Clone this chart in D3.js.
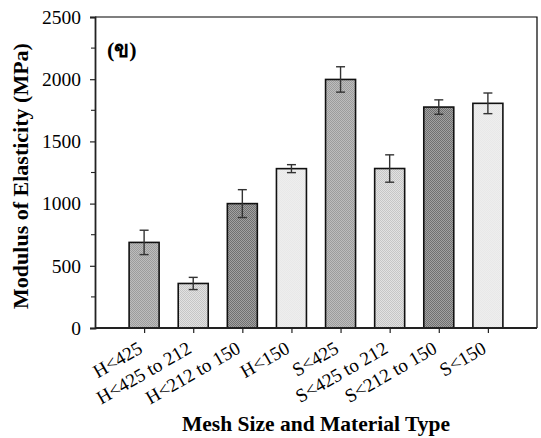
<!DOCTYPE html>
<html lang="en">
<head>
<meta charset="utf-8">
<title>Modulus of Elasticity</title>
<script src="https://cdnjs.cloudflare.com/ajax/libs/d3/7.8.5/d3.min.js"></script>
<style>
body { margin: 0; background: #fff; }
svg { display: block; }
text { font-family: "Liberation Serif", "Times New Roman", serif; fill: #000; }
</style>
</head>
<body>
<script>
// data
var categories = ["H<425", "H<425 to 212", "H<212 to 150", "H<150",
                  "S<425", "S<425 to 212", "S<212 to 150", "S<150"];
var values = [688, 358, 1000, 1281, 1998, 1282, 1776, 1806];
var errors = [98, 49, 112, 32, 102, 110, 58, 83];
var fillKind = ["mid", "light", "dark", "pale", "mid", "light", "dark", "pale"];
var yTicks = [0, 500, 1000, 1500, 2000, 2500];

var w = 541, h = 438;
// plot box (note: "top" is taken by window.top)
var pLeft = 95, pRight = 537, pTop = 17, pBottom = 328;

var svg = d3.select("body").append("svg")
    .attr("width", w)
    .attr("height", h);

// dotted fills
var defs = svg.append("defs");
var pats = {
    mid:   ["#9c9c9c", "#bdbdbd"],
    light: ["#c6c6c6", "#e2e2e2"],
    dark:  ["#707070", "#a2a2a2"],
    pale:  ["#e8e8e8", "#eeeeee"]
};
Object.keys(pats).forEach(function(k) {
    var p = defs.append("pattern")
        .attr("id", "pat-" + k)
        .attr("width", 2).attr("height", 2)
        .attr("patternUnits", "userSpaceOnUse");
    p.append("rect").attr("width", 2).attr("height", 2).attr("fill", pats[k][1]);
    p.append("rect").attr("width", 1).attr("height", 1).attr("fill", pats[k][0]);
    p.append("rect").attr("x", 1).attr("y", 1).attr("width", 1).attr("height", 1).attr("fill", pats[k][0]);
});

var x = d3.scalePoint()
    .domain(categories)
    .range([pLeft, pRight])
    .padding(1);

var y = d3.scaleLinear()
    .domain([0, 2500])
    .range([pBottom, pTop]);

var barW = 30;

// frame (top and right)
svg.append("path")
    .attr("d", "M" + pLeft + "," + pTop + "H" + pRight + "V" + pBottom)
    .attr("fill", "none")
    .attr("stroke", "#000")
    .attr("stroke-width", 1.2);

// bars
svg.selectAll("rect.bar")
    .data(categories)
    .enter()
    .append("rect")
    .attr("class", "bar")
    .attr("x", function(d) { return x(d) - barW / 2; })
    .attr("y", function(d, i) { return y(values[i]); })
    .attr("width", barW)
    .attr("height", function(d, i) { return y(0) - y(values[i]); })
    .attr("fill", function(d, i) { return "url(#pat-" + fillKind[i] + ")"; })
    .attr("stroke", "#111")
    .attr("stroke-width", 1.6);

// error bars
var eb = svg.selectAll("g.err")
    .data(categories)
    .enter()
    .append("g")
    .attr("class", "err")
    .attr("stroke", "#333")
    .attr("stroke-width", 1.4);

eb.append("line")
    .attr("x1", function(d) { return x(d); })
    .attr("x2", function(d) { return x(d); })
    .attr("y1", function(d, i) { return y(values[i] + errors[i]); })
    .attr("y2", function(d, i) { return y(values[i] - errors[i]); });
[1, -1].forEach(function(s) {
    eb.append("line")
        .attr("x1", function(d) { return x(d) - 4.5; })
        .attr("x2", function(d) { return x(d) + 4.5; })
        .attr("y1", function(d, i) { return y(values[i] + s * errors[i]); })
        .attr("y2", function(d, i) { return y(values[i] + s * errors[i]); });
});

// y axis
var yAxis = svg.append("g")
    .attr("transform", "translate(" + pLeft + ",0)")
    .call(d3.axisLeft(y).tickValues(yTicks).tickFormat(d3.format("d")).tickSize(5).tickPadding(9));
yAxis.select(".domain").attr("stroke", "#222").attr("stroke-width", 1.8);
yAxis.selectAll("line").attr("stroke", "#222").attr("stroke-width", 1.2);
yAxis.selectAll("text")
    .style("font-family", "Liberation Serif")
    .style("font-size", "19.5px")
    .attr("fill", "#000");

// minor ticks
svg.selectAll("line.minor")
    .data(d3.range(250, 2500, 500))
    .enter()
    .append("line")
    .attr("class", "minor")
    .attr("x1", pLeft - 4).attr("x2", pLeft)
    .attr("y1", function(d) { return y(d); })
    .attr("y2", function(d) { return y(d); })
    .attr("stroke", "#222")
    .attr("stroke-width", 1.1);

// x axis
var xAxis = svg.append("g")
    .attr("transform", "translate(0," + pBottom + ")")
    .call(d3.axisBottom(x).tickSize(5).tickSizeOuter(0));
xAxis.select(".domain").attr("stroke", "#222").attr("stroke-width", 1.8)
    .attr("d", "M" + pLeft + ",0H" + pRight);
xAxis.selectAll("line").attr("stroke", "#222").attr("stroke-width", 1.2);
xAxis.selectAll("text")
    .style("font-family", "Liberation Serif")
    .style("font-size", "19px")
    .attr("fill", "#000")
    .attr("y", 0).attr("dy", 0)
    .attr("text-anchor", "end")
    .attr("transform", "translate(-1,24) rotate(-30)");

// axis titles
svg.append("text")
    .attr("x", (pLeft + pRight) / 2)
    .attr("y", 431)
    .attr("text-anchor", "middle")
    .style("font-weight", "bold")
    .style("font-size", "21.5px")
    .text("Mesh Size and Material Type");

svg.append("text")
    .attr("transform", "translate(28,176) rotate(-90)")
    .attr("text-anchor", "middle")
    .style("font-weight", "bold")
    .style("font-size", "22px")
    .text("Modulus of Elasticity (MPa)");

// panel label
svg.append("text")
    .attr("x", 107)
    .attr("y", 57)
    .style("font-weight", "bold")
    .style("font-size", "22px")
    .style("font-family", "'Liberation Serif', 'DejaVu Serif', 'DejaVu Sans', 'Noto Sans', serif")
    .text("(ข)");
</script>
</body>
</html>
